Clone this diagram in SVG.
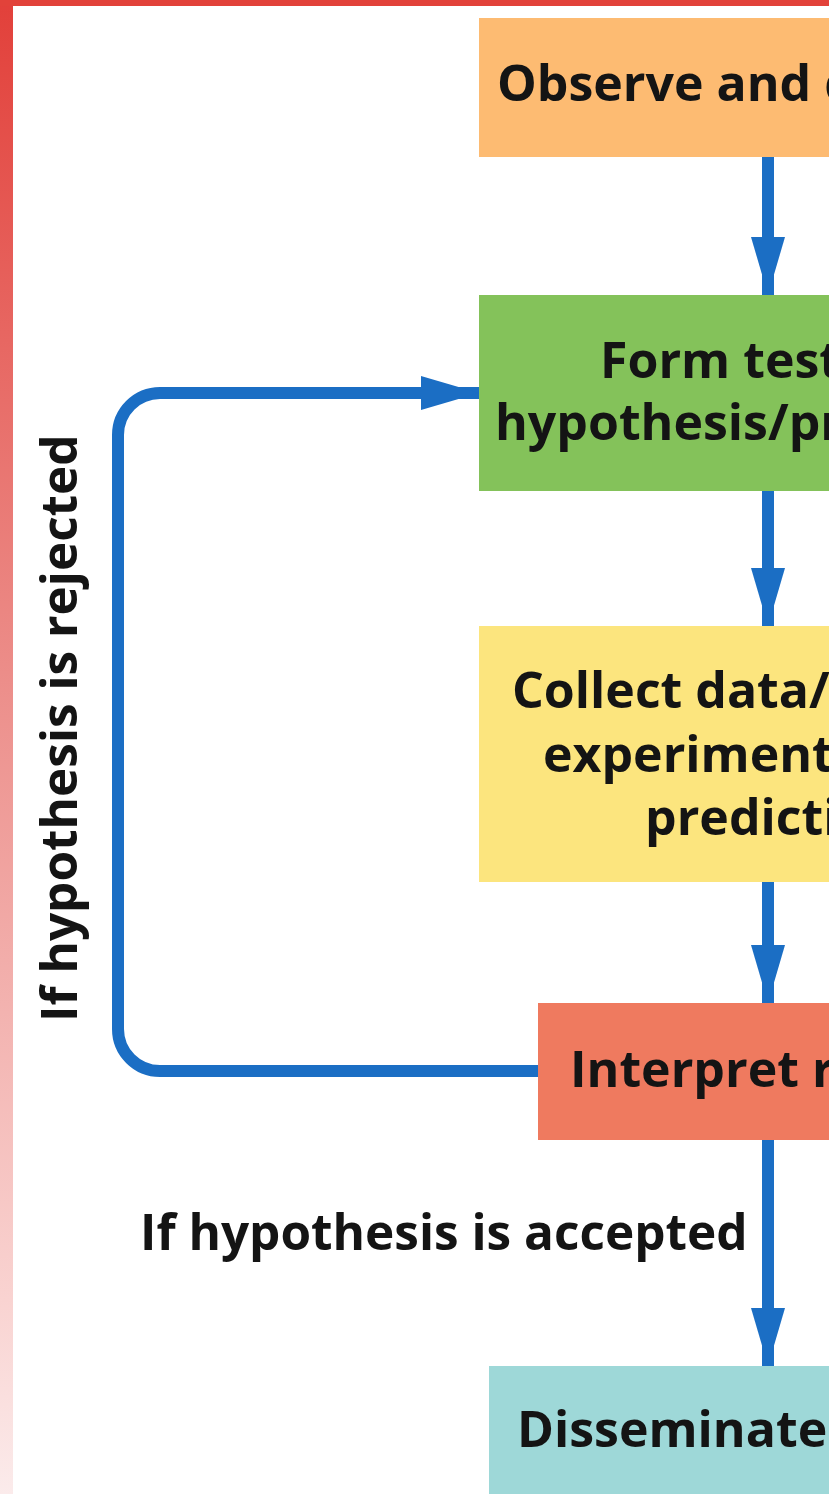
<svg xmlns="http://www.w3.org/2000/svg" width="829" height="1494" viewBox="0 0 829 1494">
<defs>
<linearGradient id="sideGrad" x1="0" y1="0" x2="0" y2="1">
<stop offset="0" stop-color="#e2403a"/>
<stop offset="0.45" stop-color="#ec8d89"/>
<stop offset="0.87" stop-color="#f9d3d1"/>
<stop offset="1" stop-color="#fbebeb"/>
</linearGradient>
<marker id="arrow" markerUnits="userSpaceOnUse" markerWidth="62" markerHeight="36" refX="58" refY="17" orient="auto">
<path d="M0,0 L58,17 L0,34 Z" fill="#1b6ec4"/>
</marker>
<style>
.lbl{font-family:"Open Sans","Noto Sans","Liberation Sans",sans-serif;font-weight:bold;font-size:50px;fill:#141414}
.side{font-family:"Open Sans","Noto Sans","Liberation Sans",sans-serif;font-weight:bold;font-size:49.5px;fill:#141414}
.conn{fill:none;stroke:#1b6ec4;stroke-width:12}
</style>
</defs>
<rect x="0" y="0" width="829" height="1494" fill="#ffffff"/>
<rect x="0" y="0" width="13" height="1494" fill="url(#sideGrad)"/>
<rect x="0" y="0" width="829" height="6" fill="#e2423a"/>

<g id="node-observe">
<rect x="479" y="18" width="400" height="139" fill="#fdbb72"/>
<text class="lbl" x="497" y="101">Observe and question</text>
</g>
<g id="node-hypothesis">
<rect x="479" y="295" width="400" height="196" fill="#84c25a"/>
<text class="lbl" x="600" y="378">Form testable</text>
<text class="lbl" x="495" y="440">hypothesis/prediction</text>
</g>
<g id="node-collect">
<rect x="479" y="626" width="400" height="256" fill="#fce57e"/>
<text class="lbl" x="512" y="708">Collect data/conduct</text>
<text class="lbl" x="543" y="772">experiment to test</text>
<text class="lbl" x="645" y="835">prediction</text>
</g>
<g id="node-interpret">
<rect x="538" y="1003" width="340" height="137" fill="#ef7a5f"/>
<text class="lbl" x="570" y="1087">Interpret results</text>
</g>
<g id="node-disseminate">
<rect x="489" y="1366" width="400" height="140" fill="#9ed8d8"/>
<text class="lbl" x="517" y="1447">Disseminate findings</text>
</g>

<g id="connectors">
<line class="conn" x1="768" y1="157" x2="768" y2="295" marker-end="url(#arrow)"/>
<line class="conn" x1="768" y1="491" x2="768" y2="626" marker-end="url(#arrow)"/>
<line class="conn" x1="768" y1="882" x2="768" y2="1003" marker-end="url(#arrow)"/>
<line class="conn" x1="768" y1="1140" x2="768" y2="1366" marker-end="url(#arrow)"/>
<path class="conn" d="M538,1071 L160,1071 A42,42 0 0 1 118,1029 L118,435 A42,42 0 0 1 160,393 L479,393" marker-end="url(#arrow)"/>
</g>

<g id="labels">
<text class="side" transform="translate(77,1022) rotate(-90)" x="0" y="0">If hypothesis is rejected</text>
<text class="side" x="140" y="1250">If hypothesis is accepted</text>
</g>
</svg>
